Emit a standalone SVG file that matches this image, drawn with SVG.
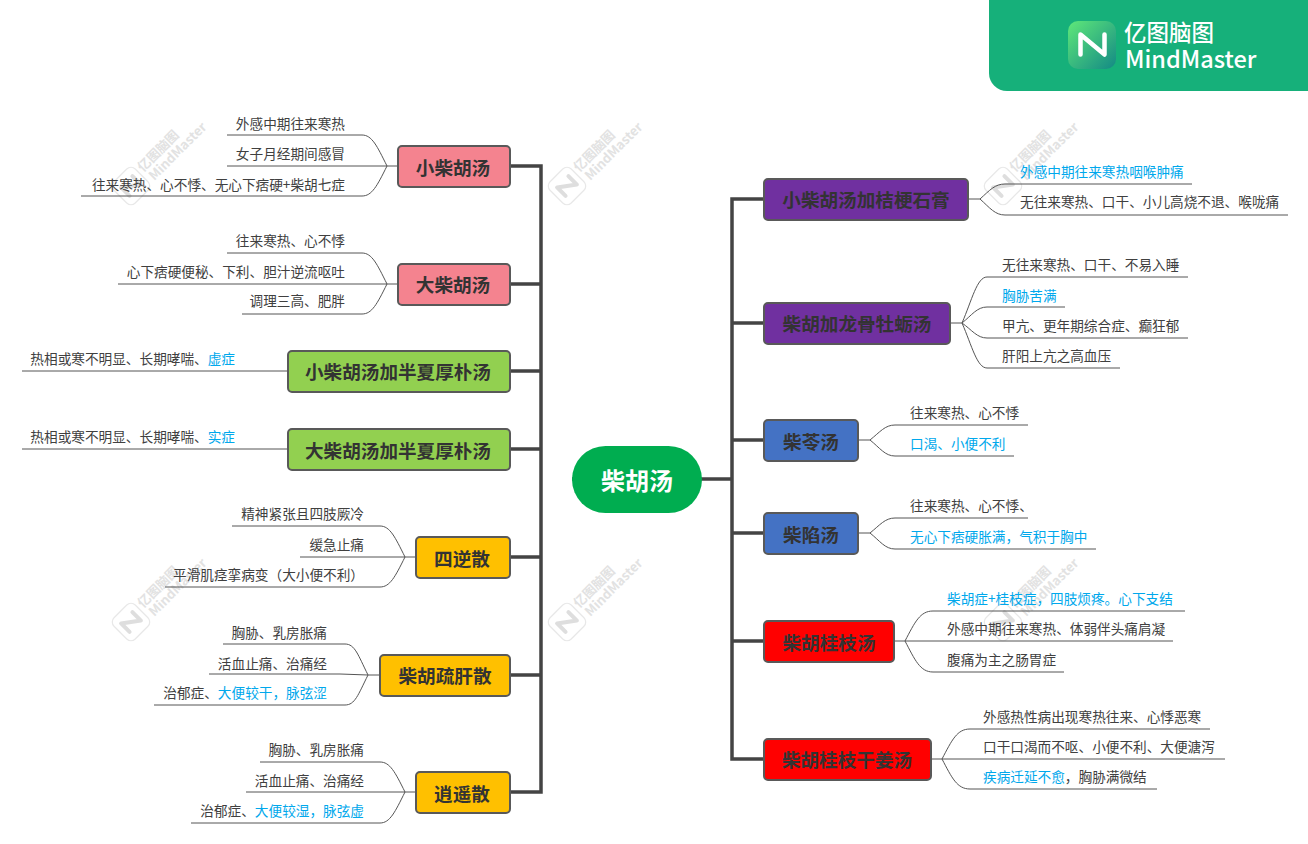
<svg xmlns="http://www.w3.org/2000/svg" width="1308" height="844" viewBox="0 0 1308 844">
<style>
text{font-family:"Noto Sans CJK SC","Noto Sans",sans-serif}
.t{font-size:13.65px;fill:#404040}
.l{text-anchor:end}
.b{fill:#00a8ec}
.n{stroke:#595959;stroke-width:2}
.nt{font-size:18.6px;font-weight:700;fill:#333;text-anchor:middle}
.tr{fill:none;stroke:#444;stroke-width:3.5}
.s{fill:none;stroke:#555;stroke-width:1}
.wm{font-size:13px;font-weight:700;fill:#e2e2e2}
</style>
<defs>
<linearGradient id="lg" x1="0" y1="0" x2="1" y2="1"><stop offset="0" stop-color="#5fe879"/><stop offset="1" stop-color="#138a85"/></linearGradient>
<g id="wm" transform="rotate(-45)">
<rect x="-15" y="-15" width="30" height="30" rx="6" fill="#fff" stroke="#e8e8e8" stroke-width="1.2"/>
<path d="M-8 6V-6L8 6V-6" fill="none" stroke="#dedede" stroke-width="4" stroke-linejoin="round" stroke-linecap="round"/>
<text class="wm" x="18" y="-1">亿图脑图</text>
<text class="wm" x="20" y="13">MindMaster</text>
</g>
</defs>
<rect width="1308" height="844" fill="#fff"/>
<g id="watermarks">
<use href="#wm" transform="translate(131 186)"/>
<use href="#wm" transform="translate(567 186)"/>
<use href="#wm" transform="translate(1003 186)"/>
<use href="#wm" transform="translate(131 622)"/>
<use href="#wm" transform="translate(567 622)"/>
<use href="#wm" transform="translate(1003 622)"/>
</g>
<g id="brand">
<rect x="989" y="-20" width="340" height="111" rx="18" fill="#16b07a"/>
<rect x="1068" y="21" width="48" height="48" rx="10" fill="url(#lg)"/>
<path d="M1080.5 54.500V34.500L1104.500 54.500V34.500" fill="none" stroke="#fff" stroke-width="4.500" stroke-linejoin="round" stroke-linecap="round"/>
<text x="1124" y="41" font-size="22.500" font-weight="500" fill="#fff">亿图脑图</text>
<text x="1125" y="68" font-size="23.500" font-weight="500" fill="#fff">MindMaster</text>
</g>
<g id="connectors">
<path class="tr" d="M572 479H702M511 166H541V792H511M511 284H541M511 371H541M511 449H541M511 557H541M511 675H541M702 479H732M763 199H732V759H763M732 323H763M732 440H763M732 533H763M732 641H763"/>
<g class="s">
<path d="M397 166H387C377 146 372 135 362 135H227M387 166H227M387 166C377 186 372 196 362 196H81"/>
<path d="M397 284H387C377 264 372 253 362 253H227M387 284H118M387 284C377 304 372 314 362 314H242"/>
<path d="M287 371H22M287 449H22"/>
<path d="M415 557H405C395 537 390 526 380 526H232M405 557H300M405 557C395 577 390 587 380 587H165"/>
<path d="M379 675H368C358 655 355 644 345 644H223M368 675L340 674H209M368 675C358 695 355 705 345 705H154"/>
<path d="M415 792H405C395 772 390 762 380 762H260M405 792H246M405 792C395 812 390 823 380 823H191"/>
<path d="M969 199H980C990 190 995 184 1005 184H1192M980 199C990 208 995 215 1005 215H1288"/>
<path d="M951 323H962C972 300 977 277 987 277H1188M962 323C972 315 977 307 987 307H1065M962 323C972 330 977 338 987 338H1188M962 323C972 346 977 368 987 368H1120"/>
<path d="M859 440H870C880 432 885 425 895 425H1028M870 440C880 448 885 456 895 456H1014"/>
<path d="M859 533H870C880 525 885 518 895 518H1028M870 533C880 541 885 549 895 549H1096"/>
<path d="M895 641H905C915 622 920 611 933 611H1185M905 641H1173M905 641C915 660 920 672 933 672H1064"/>
<path d="M932 759H942C952 740 957 729 970 729H1210M942 759H1225M942 759C952 778 957 789 970 789H1157"/>
</g>
</g>
<g id="center"><rect x="572" y="446" width="130" height="67" rx="33.500" fill="#00ad50"/><text x="637" y="490" font-size="24" font-weight="700" fill="#fff" text-anchor="middle">柴胡汤</text></g>
<g id="xiaochaihu"><rect class="n" x="398" y="146" width="112" height="41" rx="4" fill="#f4838f"/><text class="nt" x="453" y="175">小柴胡汤</text>
<text class="t l" x="345" y="129">外感中期往来寒热</text><text class="t l" x="345" y="159">女子月经期间感冒</text><text class="t l" x="345" y="190">往来寒热、心不悸、无心下痞硬+柴胡七症</text></g>
<g id="dachaihu"><rect class="n" x="398" y="264" width="112" height="41" rx="4" fill="#f4838f"/><text class="nt" x="453" y="292">大柴胡汤</text>
<text class="t l" x="345" y="246">往来寒热、心不悸</text><text class="t l" x="345" y="277">心下痞硬便秘、下利、胆汁逆流呕吐</text><text class="t l" x="345" y="306">调理三高、肥胖</text></g>
<g id="xiaobanxia"><rect class="n" x="288" y="351" width="222" height="41" rx="4" fill="#92d050"/><text class="nt" x="398" y="379">小柴胡汤加半夏厚朴汤</text>
<text class="t l" x="235" y="364">热相或寒不明显、长期哮喘、<tspan class="b">虚症</tspan></text></g>
<g id="dabanxia"><rect class="n" x="288" y="429" width="222" height="41" rx="4" fill="#92d050"/><text class="nt" x="398" y="458">大柴胡汤加半夏厚朴汤</text>
<text class="t l" x="235" y="442">热相或寒不明显、长期哮喘、<tspan class="b">实症</tspan></text></g>
<g id="sini"><rect class="n" x="416" y="537" width="94" height="41" rx="4" fill="#ffc000"/><text class="nt" x="462" y="566">四逆散</text>
<text class="t l" x="364" y="519">精神紧张且四肢厥冷</text><text class="t l" x="364" y="550">缓急止痛</text><text class="t l" x="364" y="580">平滑肌痉挛病变（大小便不利）</text></g>
<g id="shugan"><rect class="n" x="380" y="655" width="130" height="41" rx="4" fill="#ffc000"/><text class="nt" x="445" y="683">柴胡疏肝散</text>
<text class="t l" x="327" y="638">胸胁、乳房胀痛</text><text class="t l" x="327" y="669">活血止痛、治痛经</text><text class="t l" x="327" y="698">治郁症、<tspan class="b">大便较干，脉弦涩</tspan></text></g>
<g id="xiaoyao"><rect class="n" x="416" y="772" width="94" height="41" rx="4" fill="#ffc000"/><text class="nt" x="462" y="801">逍遥散</text>
<text class="t l" x="364" y="755">胸胁、乳房胀痛</text><text class="t l" x="364" y="786">活血止痛、治痛经</text><text class="t l" x="364" y="816">治郁症、<tspan class="b">大便较湿，脉弦虚</tspan></text></g>
<g id="jiegeng"><rect class="n" x="764" y="179" width="204" height="41" rx="4" fill="#7030a0"/><text class="nt" x="866" y="207">小柴胡汤加桔梗石膏</text>
<text class="t b" x="1020" y="177">外感中期往来寒热咽喉肿痛</text><text class="t" x="1020" y="207">无往来寒热、口干、小儿高烧不退、喉咙痛</text></g>
<g id="longgu"><rect class="n" x="764" y="303" width="186" height="41" rx="4" fill="#7030a0"/><text class="nt" x="857" y="331">柴胡加龙骨牡蛎汤</text>
<text class="t" x="1002" y="270">无往来寒热、口干、不易入睡</text><text class="t b" x="1002" y="301">胸胁苦满</text><text class="t" x="1002" y="331">甲亢、更年期综合症、癫狂郁</text><text class="t" x="1002" y="361">肝阳上亢之高血压</text></g>
<g id="chaoling"><rect class="n" x="764" y="420" width="94" height="41" rx="4" fill="#4472c4"/><text class="nt" x="811" y="449">柴苓汤</text>
<text class="t" x="910" y="418">往来寒热、心不悸</text><text class="t b" x="910" y="449">口渴、小便不利</text></g>
<g id="chaixian"><rect class="n" x="764" y="513" width="94" height="41" rx="4" fill="#4472c4"/><text class="nt" x="811" y="542">柴陷汤</text>
<text class="t" x="910" y="511">往来寒热、心不悸、</text><text class="t b" x="910" y="542">无心下痞硬胀满，气积于胸中</text></g>
<g id="guizhi"><rect class="n" x="764" y="621" width="130" height="41" rx="4" fill="#f00"/><text class="nt" x="829" y="650">柴胡桂枝汤</text>
<text class="t b" x="947" y="604">柴胡症+桂枝症，四肢烦疼。心下支结</text><text class="t" x="947" y="634">外感中期往来寒热、体弱伴头痛肩凝</text><text class="t" x="947" y="665">腹痛为主之肠胃症</text></g>
<g id="ganjiang"><rect class="n" x="764" y="739" width="167" height="41" rx="4" fill="#f00"/><text class="nt" x="847" y="767">柴胡桂枝干姜汤</text>
<text class="t" x="983" y="722">外感热性病出现寒热往来、心悸恶寒</text><text class="t" x="983" y="752">口干口渴而不呕、小便不利、大便溏泻</text><text class="t" x="983" y="782"><tspan class="b">疾病迁延不愈</tspan>，胸胁满微结</text></g>
</svg>
